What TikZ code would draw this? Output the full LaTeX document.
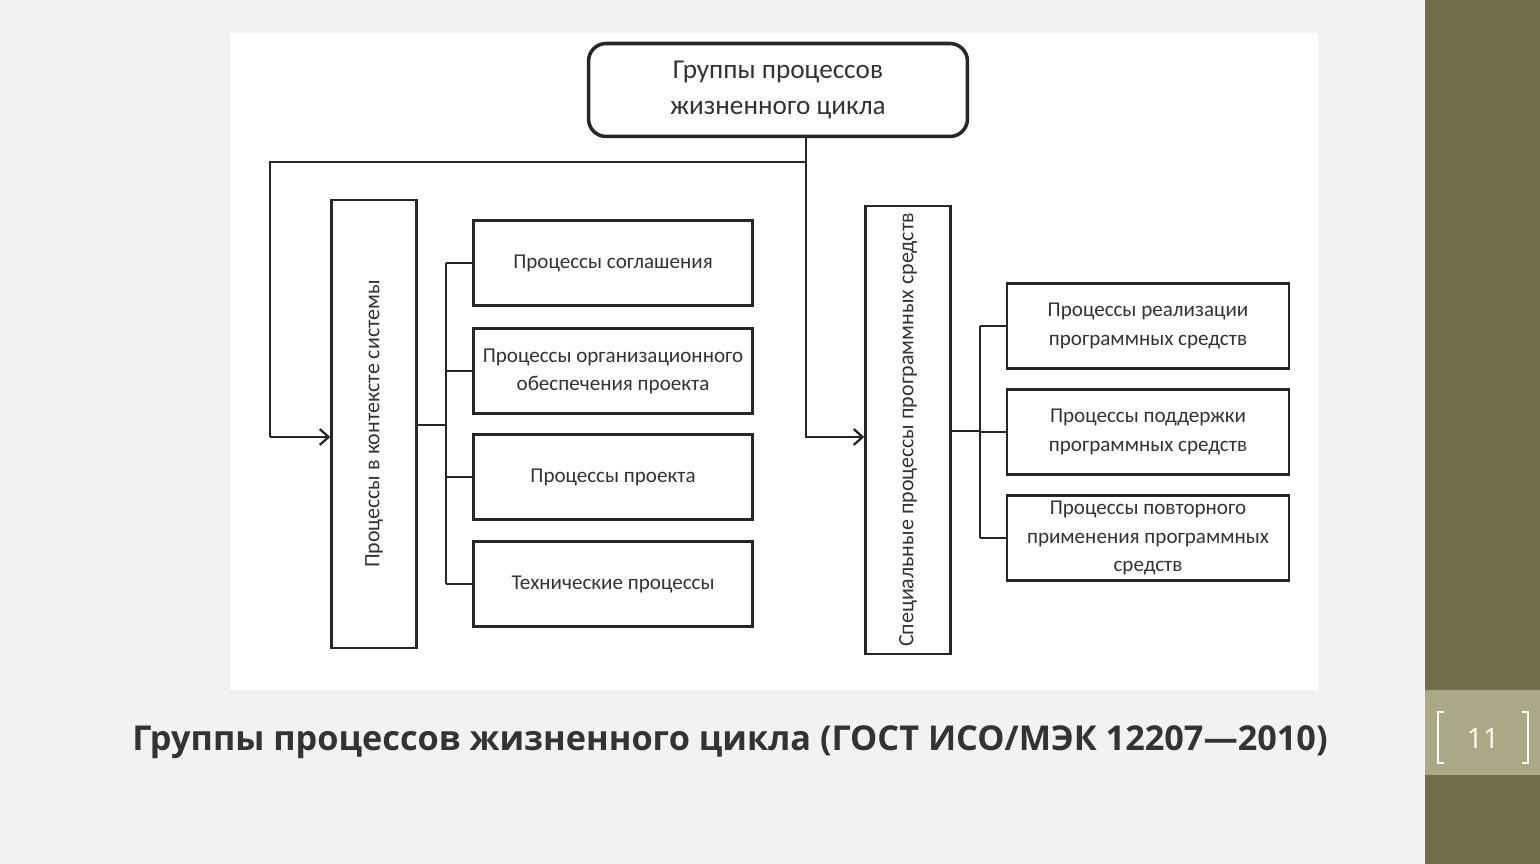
\documentclass[tikz,border=0pt]{standalone}
\usepackage{fontspec}
\setmainfont{Carlito}
\newfontfamily\capfont{Open Sans}
\usetikzlibrary{positioning,arrows.meta}
\colorlet{sidecol}{black!45!olive!60!gray}
\colorlet{linecol}{black!85}
\tikzset{
  procbox/.style={draw=linecol, line width=1.4pt, minimum width=5.58cm, minimum height=1.7cm, inner xsep=2pt, align=center, font=\fontsize{12}{16}\selectfont, text=black!80},
  tallbox/.style={draw=linecol, line width=1.4pt, minimum width=8.96cm, minimum height=1.7cm, rotate=90, align=center, font=\fontsize{12.5}{14}\selectfont, text=black!80},
  topbox/.style={draw=linecol, line width=2pt, rounded corners=10pt, minimum width=7.58cm, minimum height=1.86cm, align=center, font=\fontsize{15.5}{20}\selectfont, text=black!80},
  link/.style={linecol, line width=1.3pt},
  arrowlink/.style={link, -{Straight Barb[length=5pt,width=9pt]}}
}
\begin{document}
\begin{tikzpicture}[x=0.02cm, y=-0.02cm]
  \useasboundingbox (0,0) rectangle (1540,864);
  \fill[black!5] (0,0) rectangle (1425,864);
  \fill[white] (230,33) rectangle (1318,690);
  \fill[sidecol] (1425,0) rectangle (1540,864);
  \fill[sidecol!60!white] (1425,690) rectangle (1540,775);
  \node[text=white, font=\capfont\fontsize{16}{18}\selectfont] (pagenum) at (1483,738) {11};
  \draw[white, line width=1pt] (1444,712) -- (1438,712) -- (1438,763) -- (1444,763);
  \draw[white, line width=1pt] (1522,712) -- (1528,712) -- (1528,763) -- (1522,763);

  % top
  \node[topbox] (groups) at (778,90) {Группы процессов\\жизненного цикла};
  \coordinate (split) at (806,162);
  \coordinate (leftturn) at (270,162);
  \coordinate (leftdown) at (270,437);

  % left branch
  \node[tallbox] (system) at (374,424) {Процессы в контексте системы};
  \node[procbox] (agree) at (613,263) {Процессы соглашения};
  \node[procbox] (org) at (613,371) {Процессы организационного\\обеспечения проекта};
  \node[procbox] (project) at (613,477) {Процессы проекта};
  \node[procbox] (tech) at (613,584) {Технические процессы};

  % right branch
  \node[tallbox] (software) at (908,430) {Специальные процессы программных средств};
  \node[procbox, minimum width=5.64cm] (impl) at (1148,326) {Процессы реализации\\программных средств};
  \node[procbox, minimum width=5.64cm] (support) at (1148,432) {Процессы поддержки\\программных средств};
  \node[procbox, minimum width=5.64cm] (reuse) at (1148,538) {Процессы повторного\\применения программных\\средств};

  % connectors
  \draw[link] (groups.south -| split) -- (split) -- (leftturn) -- (leftdown);
  \draw[arrowlink] (leftdown) -- (leftdown -| system.north);
  \draw[arrowlink] (split) -- (806,437) -- (software.north |- 0,437);
  \draw[link] (system.south |- 0,425) -- (446,425);
  \draw[link] (446,263) -- (446,584);
  \foreach \b in {agree,org,project,tech}
    \draw[link] (446,0 |- \b.west) -- (\b.west);
  \draw[link] (software.south |- 0,431) -- (980,431);
  \draw[link] (980,326) -- (980,538);
  \foreach \b in {impl,support,reuse}
    \draw[link] (980,0 |- \b.west) -- (\b.west);

  % caption
  \node[font=\capfont\bfseries\fontsize{19.5}{23}\selectfont, text=black!80] (caption) at (730,742)
    {Группы процессов жизненного цикла (ГОСТ ИСО/МЭК 12207—2010)};
\end{tikzpicture}
\end{document}
